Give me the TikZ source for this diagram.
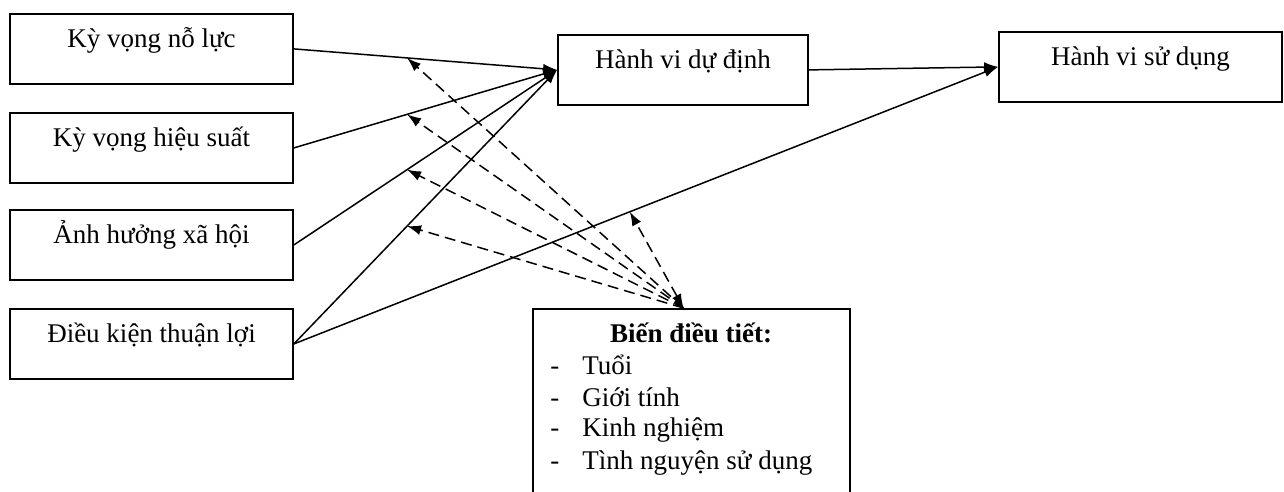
\documentclass[tikz,border=0pt]{standalone}
\usepackage{fontspec}
\setmainfont{Liberation Serif}
\usetikzlibrary{arrows.meta,calc,positioning,shapes}

\begin{document}
\begin{tikzpicture}[auto,>={Latex[length=7pt,width=5pt]},x=0.5pt,y=-0.5pt]
	\tikzstyle{block} = [draw, rectangle, line width=0.9pt, anchor=north, inner sep=0pt, text height=17pt, text depth=18pt, minimum width=141.5pt, font=\fontsize{13.5}{16}\selectfont]
	\tikzstyle{link} = [->, line width=0.75pt]
	\tikzstyle{moder} = [->, line width=0.75pt, dash pattern=on 5.5pt off 3pt]
	\tikzstyle{item} = [anchor=west, inner sep=0pt, font=\fontsize{13.5}{16}\selectfont]

	\useasboundingbox (0,0) rectangle (1284,492);

	% cac bien doc lap
	\node [block] (nl) at (151.5, 13) {Kỳ vọng nỗ lực};
	\node [block] (hs) at (151.5, 112) {Kỳ vọng hiệu suất};
	\node [block] (xh) at (151.5, 209) {Ảnh hưởng xã hội};
	\node [block] (dk) at (151.5, 308) {Điều kiện thuận lợi};

	\node [block, minimum width=125pt] (dd) at (683, 34) {Hành vi dự định};
	\node [block, minimum width=141.5pt] (sd) at (1140.5, 31) {Hành vi sử dụng};

	% bien dieu tiet (day hop nam ngoai khung)
	\node [draw, rectangle, line width=0.9pt, anchor=north, minimum width=158.5pt, minimum height=110pt] (bien) at (691.5, 308) {};
	\node [font=\fontsize{13.5}{16}\selectfont\bfseries, inner sep=0pt] (tieude) at (691, 333) {Biến điều tiết:};
	\foreach \i/\t in {0/Tuổi, 1/Giới tính, 2/Kinh nghiệm, 3/Tình nguyện sử dụng}
		{ \node [item] (m\i) at (550, 365+32.6*\i) {-\hspace{11.5pt}\t};}

	\draw [link] (nl.east) -- coordinate[pos=0.43] (a1) (dd.west);
	\draw [link] (hs.east) -- coordinate[pos=0.43] (a2) (dd.west);
	\draw [link] (xh.east) -- coordinate[pos=0.43] (a3) (dd.west);
	\draw [link] (dk.east) -- coordinate[pos=0.43] (a4) (dd.west);
	\draw [link] (dk.east) -- coordinate[pos=0.477] (a5) (sd.west);
	\draw [link] (dd.east) -- (sd.west);

	\coordinate (m) at ($(bien.north)+(-8,0)$);
	\foreach \p in {a1,a2,a3,a4}
		\draw [moder] (m) -- (\p);
	\draw [moder, <->] (m) -- (a5);

\end{tikzpicture}
\end{document}
